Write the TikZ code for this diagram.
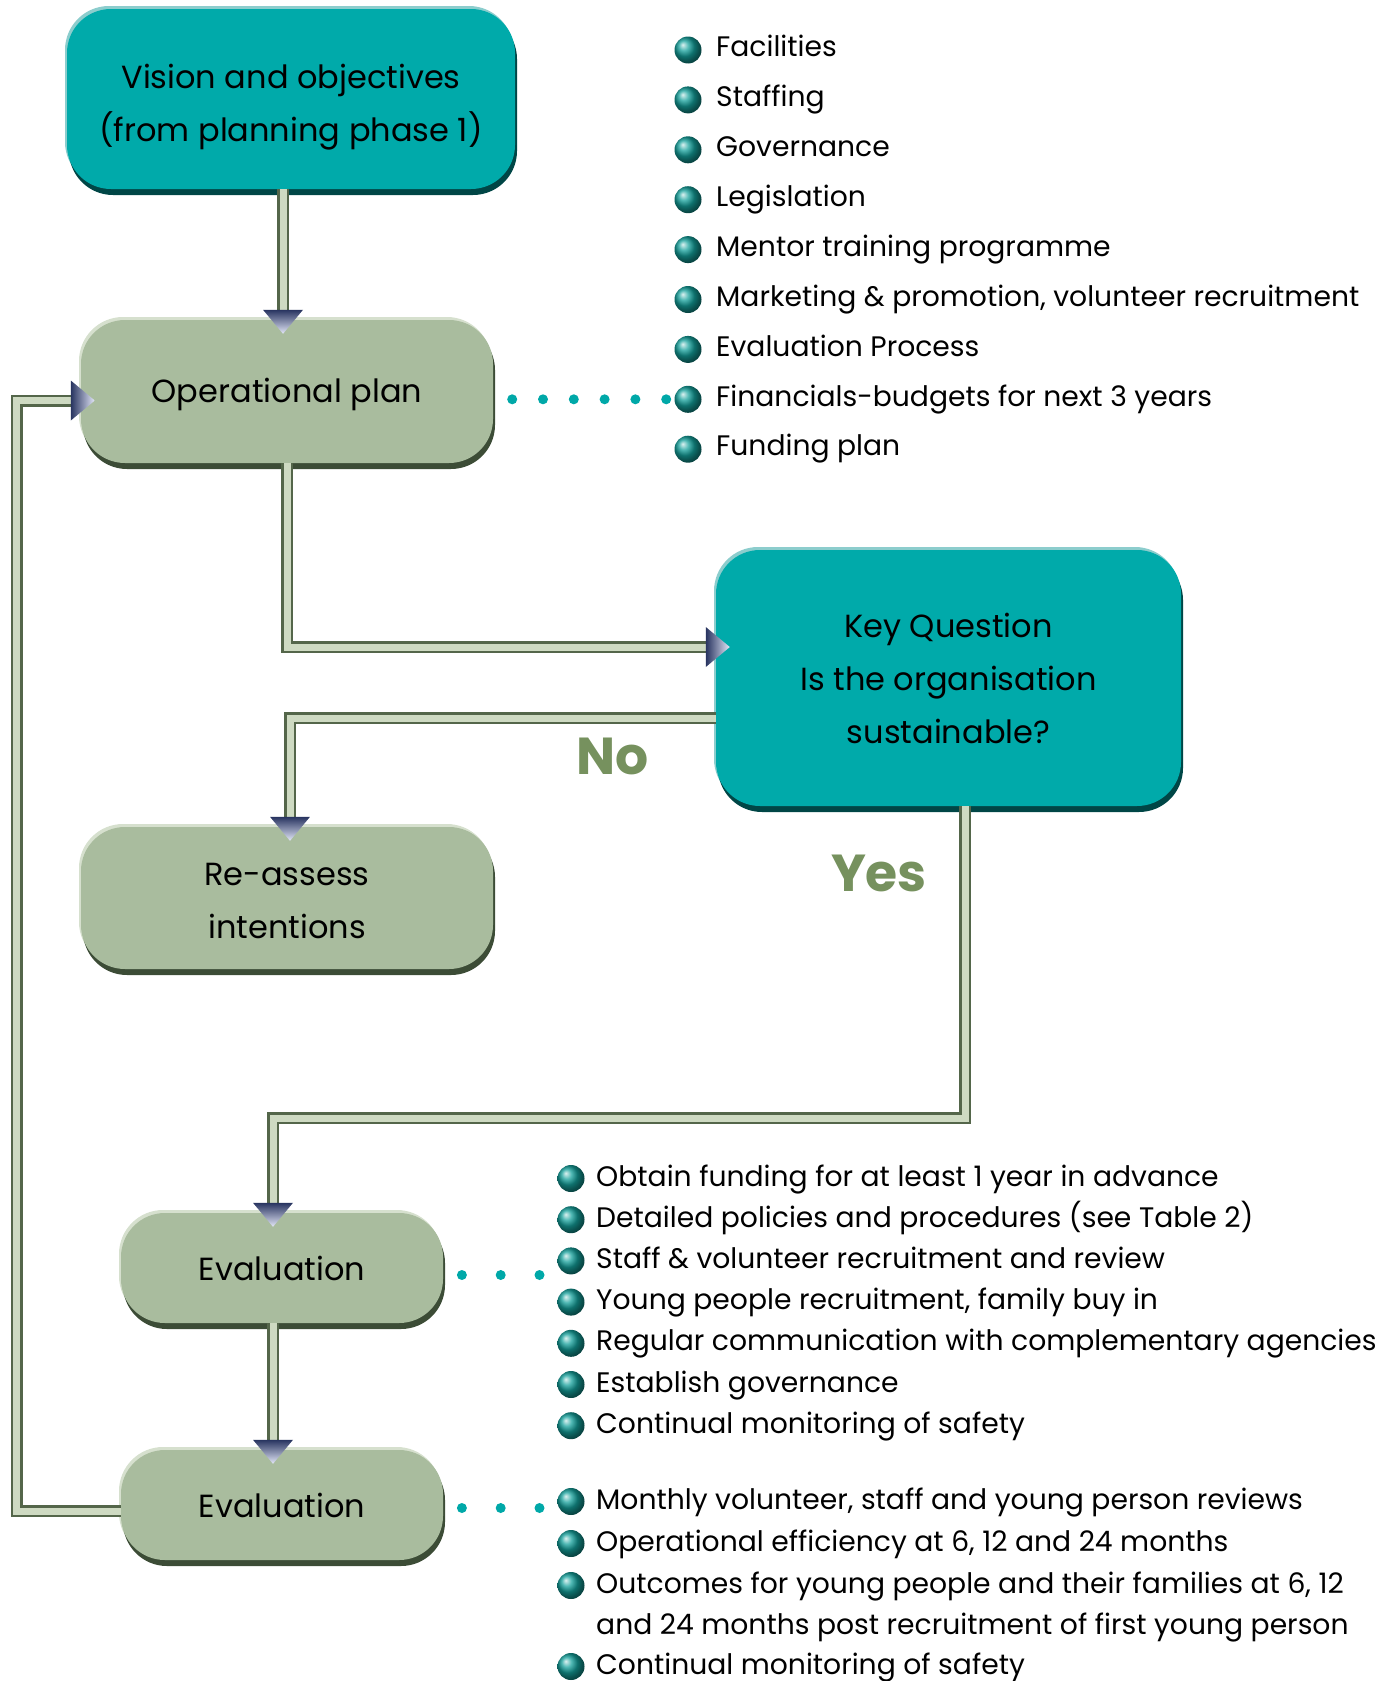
\documentclass[tikz,border=0pt]{standalone}
\usepackage{fontspec}
\setmainfont{Poppins}
\usetikzlibrary{shadows}
\definecolor{boxteal}{RGB}{0,170,170}
\definecolor{tealdark}{RGB}{0,70,70}
\definecolor{teallite}{RGB}{140,205,205}
\definecolor{boxgreen}{RGB}{169,188,158}
\definecolor{greendark}{RGB}{60,76,54}
\definecolor{greenlite}{RGB}{214,224,206}
\definecolor{pipelite}{RGB}{206,218,194}
\definecolor{pipedark}{RGB}{84,102,74}
\definecolor{tipdark}{RGB}{40,52,96}
\definecolor{tiplite}{RGB}{228,232,248}
\definecolor{dotteal}{RGB}{0,168,168}
\definecolor{bullteal}{RGB}{20,160,155}
\definecolor{answergreen}{RGB}{118,145,94}
\tikzset{box/.style={rounded corners=44pt, align=center, inner sep=0pt,
                     font=\fontsize{32}{53}\selectfont},
         tealbox/.style={box, fill=boxteal,
             general shadow={fill=teallite, shadow xshift=-2pt, shadow yshift=3pt},
             general shadow={fill=tealdark, shadow xshift=2pt, shadow yshift=-6pt}},
         greenbox/.style={box, fill=boxgreen,
             general shadow={fill=greenlite, shadow xshift=-2pt, shadow yshift=3pt},
             general shadow={fill=greendark, shadow xshift=2pt, shadow yshift=-6pt}},
         pipe/.style={draw=pipedark, line width=2.5pt, double=pipelite, double distance=7pt},
         tipdown/.style={top color=tipdark, bottom color=tiplite},
         tipright/.style={left color=tipdark, right color=tiplite},
         dotline/.style={dotteal, line width=10pt, line cap=round, dash pattern=on 0pt off 30.8pt},
         bullet/.style={ball color=bullteal},
         item/.style={anchor=base west, inner sep=0pt, font=\fontsize{28.2}{34}\selectfont},
         answerlbl/.style={text=answergreen, font=\fontsize{52}{58}\selectfont\bfseries}}

\begin{document}
\begin{tikzpicture}[x=1pt, y=-1pt]
\useasboundingbox (0,0) rectangle (1390,1681);
% Boxes:
\node[tealbox, minimum width=448pt, minimum height=180pt] (vision) at (291,99)
     {\rule{0pt}{40pt}Vision and objectives\\(from planning phase 1)};
\node[greenbox, minimum width=412pt, minimum height=143pt] (op) at (287,391.5)
     {\rule{0pt}{30pt}Operational plan};
\node[tealbox, minimum width=465pt, minimum height=256pt] (key) at (948.5,678)
     {Key Question\\Is the organisation\\sustainable?};
\node[greenbox, minimum width=412pt, minimum height=142pt] (re) at (287,898)
     {\rule{0pt}{28pt}Re-assess\\intentions};
\node[greenbox, minimum width=322pt, minimum height=110pt] (e1) at (282,1268) {Evaluation};
\node[greenbox, minimum width=322pt, minimum height=110pt] (e2) at (282,1505) {Evaluation};
% Answers:
\node[answerlbl] (no) at (613,756) {No};
\node[answerlbl] (yes) at (879,873) {Yes};

% Pipes:
\draw[pipe] ([xshift=-8pt]vision.south) -- ([xshift=-8pt]vision.south |- op.north);
\draw[pipe] (op.south) |- ([yshift=31pt]key.west);
\draw[pipe] ([yshift=-40pt]key.west) -| ([xshift=3pt]re.north);
\draw[pipe] ([xshift=16.5pt]key.south) -- ++(0,312) -| ([xshift=-9pt]e1.north);
\draw[pipe] ([xshift=-9pt]e1.south) -- ([xshift=-9pt]e2.north);
\draw[pipe] ([yshift=-6pt]e2.west) -- ++(-104,0) |- ([yshift=-9pt]op.west);
% Arrow heads:
\shade[tipdown] ([xshift=-8pt]vision.south |- op.north) ++(-20,-10) -- ++(40,0) -- ++(-20,24) -- cycle;
\shade[tipright] ([yshift=31pt]key.west) ++(-10,-20) -- ++(0,40) -- ++(24,-20) -- cycle;
\shade[tipdown] ([xshift=3pt]re.north) ++(-20,-10) -- ++(40,0) -- ++(-20,24) -- cycle;
\shade[tipdown] ([xshift=-9pt]e1.north) ++(-20,-10) -- ++(40,0) -- ++(-20,24) -- cycle;
\shade[tipdown] ([xshift=-9pt]e2.north) ++(-20,-10) -- ++(40,0) -- ++(-20,24) -- cycle;
\shade[tipright] ([yshift=-9pt]op.west) ++(-10,-20) -- ++(0,40) -- ++(24,-20) -- cycle;

% Lists:
\foreach \t [count=\i] in {Facilities, Staffing, Governance, Legislation,
    Mentor training programme, {Marketing \& promotion, volunteer recruitment},
    Evaluation Process, Financials-budgets for next 3 years, Funding plan} {
  \coordinate (op\i) at (688,{50+49.9*(\i-1)});
  \shade[bullet] (op\i) circle (13.5);
  \node[item] (opt\i) at (716,{56.7+49.9*(\i-1)}) {\t};
}
\foreach \t [count=\i] in {Obtain funding for at least 1 year in advance,
    Detailed policies and procedures (see Table 2),
    Staff \& volunteer recruitment and review,
    {Young people recruitment, family buy in},
    Regular communication with complementary agencies,
    Establish governance, Continual monitoring of safety} {
  \coordinate (ea\i) at (571,{1178.5+41.2*(\i-1)});
  \shade[bullet] (ea\i) circle (13.5);
  \node[item] (eat\i) at (596,{1186+41.2*(\i-1)}) {\t};
}
\foreach \y/\t [count=\i] in {1509/{Monthly volunteer, staff and young person reviews},
    1551/{Operational efficiency at 6, 12 and 24 months},
    1593/{Outcomes for young people and their families at 6, 12},
    1674/Continual monitoring of safety} {
  \coordinate (eb\i) at (571,\y-7.5);
  \shade[bullet] (eb\i) circle (13.5);
  \node[item] (ebt\i) at (596,\y) {\t};
}
\node[item] (ebt3more) at ([yshift=-41pt]ebt3.base west)
     {and 24 months post recruitment of first young person};

% Dots:
\draw[dotline] ([xshift=19pt]op.east |- op8) -- ([xshift=-21pt]op8);
\draw[dotline, dash pattern=on 0pt off 38.8pt] ([shift={(18.7pt,-7pt)}]e1.east) -- ++(79,0);
\draw[dotline, dash pattern=on 0pt off 38.8pt] ([shift={(18.7pt,-3pt)}]e2.east) -- ++(79,0);
\end{tikzpicture}
\end{document}
